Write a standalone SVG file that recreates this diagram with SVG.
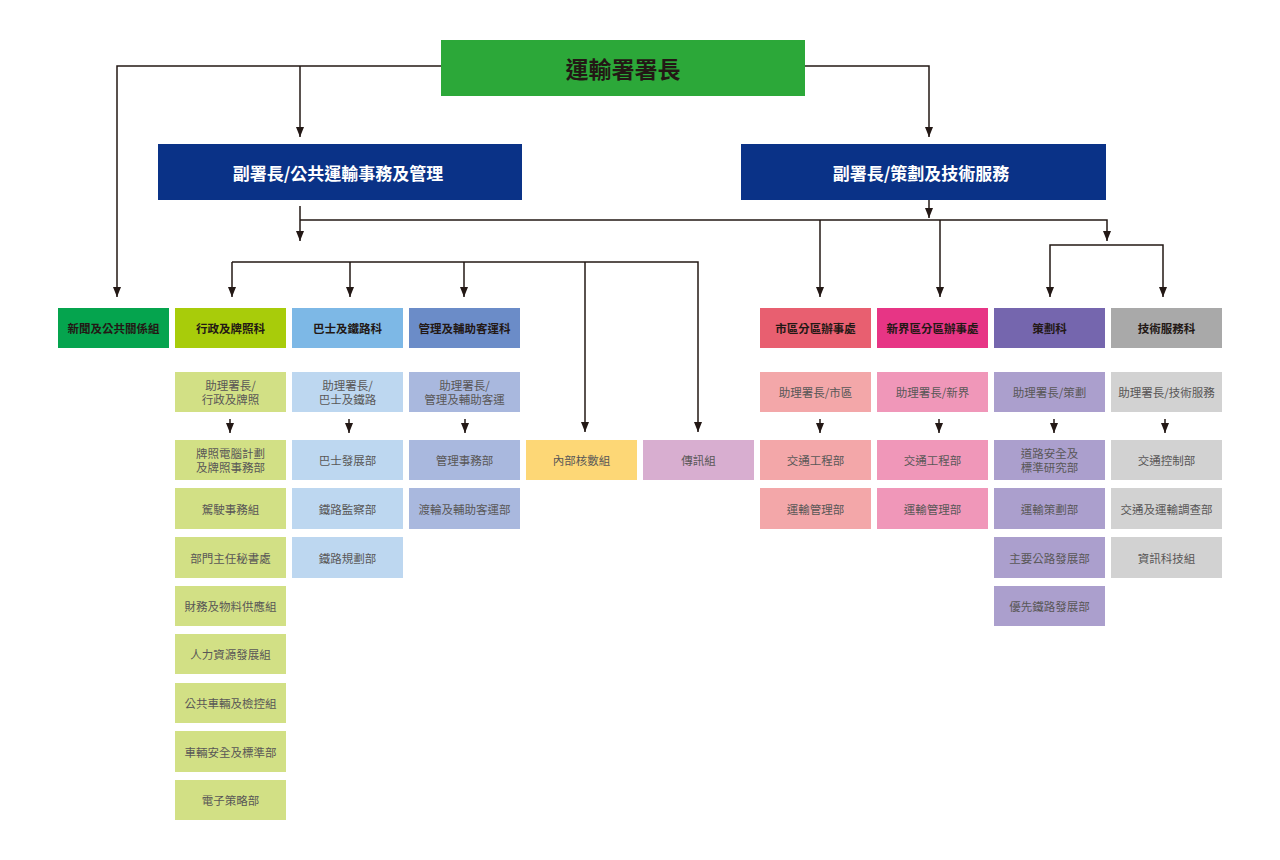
<svg xmlns="http://www.w3.org/2000/svg" width="1280" height="860" viewBox="0 0 1280 860">
<defs>
<style>
text{font-family:"Noto Sans CJK TC","Noto Sans CJK SC",sans-serif;text-anchor:middle;dominant-baseline:central}
.t0{font-size:23px;font-weight:bold;fill:#231815}
.t1{font-size:17px;font-weight:bold;fill:#ffffff}
.h{font-size:11.5px;font-weight:bold;fill:#231815}
.l{font-size:11.5px;fill:#595757}
.c{fill:none;stroke:#231815;stroke-width:1.5}
</style>
<marker id="ah" viewBox="0 0 10 8" refX="10" refY="4" markerWidth="10" markerHeight="8" markerUnits="userSpaceOnUse" orient="auto"><path d="M0,0 L10,4 L0,8 z" fill="#231815"/></marker>
</defs>
<rect width="1280" height="860" fill="#ffffff"/>

<g id="connectors">
<path class="c" d="M441,66 H117 V297" marker-end="url(#ah)"/>
<path class="c" d="M300,66 V137" marker-end="url(#ah)"/>
<path class="c" d="M805,66 H929 V137" marker-end="url(#ah)"/>
<path class="c" d="M300,206 V241" marker-end="url(#ah)"/>
<path class="c" d="M929,200 V218" marker-end="url(#ah)"/>
<path class="c" d="M300,220 H1107 V241" marker-end="url(#ah)"/>
<path class="c" d="M820,220 V297" marker-end="url(#ah)"/>
<path class="c" d="M940,220 V297" marker-end="url(#ah)"/>
<path class="c" d="M1107,245 H1050 V297" marker-end="url(#ah)"/>
<path class="c" d="M1107,245 H1163 V297" marker-end="url(#ah)"/>
<path class="c" d="M232,262 H698 V432" marker-end="url(#ah)"/>
<path class="c" d="M232,262 V297" marker-end="url(#ah)"/>
<path class="c" d="M350,262 V297" marker-end="url(#ah)"/>
<path class="c" d="M464,262 V297" marker-end="url(#ah)"/>
<path class="c" d="M585,262 V432" marker-end="url(#ah)"/>
<path class="c" d="M230,419 V433" marker-end="url(#ah)"/>
<path class="c" d="M349,419 V433" marker-end="url(#ah)"/>
<path class="c" d="M465,419 V433" marker-end="url(#ah)"/>
<path class="c" d="M820,419 V433" marker-end="url(#ah)"/>
<path class="c" d="M939,419 V433" marker-end="url(#ah)"/>
<path class="c" d="M1054,419 V433" marker-end="url(#ah)"/>
<path class="c" d="M1165,419 V433" marker-end="url(#ah)"/>
</g>

<g id="director"><rect x="441" y="40" width="364" height="56" fill="#2ca839"/><text class="t0" x="623" y="68">運輸署署長</text></g>
<g id="dd-public"><rect x="158" y="144" width="364" height="56" fill="#0a3287"/><text class="t1" x="338" y="172">副署長/公共運輸事務及管理</text></g>
<g id="dd-planning"><rect x="741" y="144" width="365" height="56" fill="#0a3287"/><text class="t1" x="921" y="172">副署長/策劃及技術服務</text></g>

<g id="pr"><rect x="58" y="308" width="111" height="40" fill="#05a44e"/><text class="h" x="113.5" y="328">新聞及公共關係組</text></g>
<g id="admin"><rect x="175" y="308" width="111" height="40" fill="#a8cc0a"/><text class="h" x="230.5" y="328">行政及牌照科</text></g>
<g id="busrail"><rect x="292" y="308" width="111" height="40" fill="#7db8e6"/><text class="h" x="347.5" y="328">巴士及鐵路科</text></g>
<g id="mgmt"><rect x="409" y="308" width="111" height="40" fill="#6b8cc8"/><text class="h" x="464.5" y="328">管理及輔助客運科</text></g>
<g id="urban"><rect x="760" y="308" width="111" height="40" fill="#e85f70"/><text class="h" x="815.5" y="328">市區分區辦事處</text></g>
<g id="nt"><rect x="877" y="308" width="111" height="40" fill="#e73585"/><text class="h" x="932.5" y="328">新界區分區辦事處</text></g>
<g id="planning"><rect x="994" y="308" width="111" height="40" fill="#7566ae"/><text class="h" x="1049.5" y="328">策劃科</text></g>
<g id="tech"><rect x="1111" y="308" width="111" height="40" fill="#a9a9a9"/><text class="h" x="1166.5" y="328">技術服務科</text></g>

<g id="col1">
<g id="a-ad"><rect x="175" y="372" width="111" height="40" fill="#d2e085"/><text class="l" x="230.5" y="385">助理署長/</text><text class="l" x="230.5" y="399">行政及牌照</text></g>
<g id="a-1"><rect x="175" y="440" width="111" height="40" fill="#d2e085"/><text class="l" x="230.5" y="453">牌照電腦計劃</text><text class="l" x="230.5" y="467">及牌照事務部</text></g>
<g id="a-2"><rect x="175" y="488" width="111" height="41" fill="#d2e085"/><text class="l" x="230.5" y="508.5">駕駛事務組</text></g>
<g id="a-3"><rect x="175" y="537" width="111" height="41" fill="#d2e085"/><text class="l" x="230.5" y="557.5">部門主任秘書處</text></g>
<g id="a-4"><rect x="175" y="586" width="111" height="40" fill="#d2e085"/><text class="l" x="230.5" y="606">財務及物料供應組</text></g>
<g id="a-5"><rect x="175" y="634" width="111" height="40" fill="#d2e085"/><text class="l" x="230.5" y="654">人力資源發展組</text></g>
<g id="a-6"><rect x="175" y="683" width="111" height="40" fill="#d2e085"/><text class="l" x="230.5" y="703">公共車輛及檢控組</text></g>
<g id="a-7"><rect x="175" y="731" width="111" height="41" fill="#d2e085"/><text class="l" x="230.5" y="751.5">車輛安全及標準部</text></g>
<g id="a-8"><rect x="175" y="780" width="111" height="40" fill="#d2e085"/><text class="l" x="230.5" y="800">電子策略部</text></g>
</g>

<g id="col2">
<g id="b-ad"><rect x="292" y="372" width="111" height="40" fill="#bdd7f0"/><text class="l" x="347.5" y="385">助理署長/</text><text class="l" x="347.5" y="399">巴士及鐵路</text></g>
<g id="b-1"><rect x="292" y="440" width="111" height="40" fill="#bdd7f0"/><text class="l" x="347.5" y="460">巴士發展部</text></g>
<g id="b-2"><rect x="292" y="488" width="111" height="41" fill="#bdd7f0"/><text class="l" x="347.5" y="508.5">鐵路監察部</text></g>
<g id="b-3"><rect x="292" y="537" width="111" height="41" fill="#bdd7f0"/><text class="l" x="347.5" y="557.5">鐵路規劃部</text></g>
</g>

<g id="col3">
<g id="c-ad"><rect x="409" y="372" width="111" height="40" fill="#a9b8de"/><text class="l" x="464.5" y="385">助理署長/</text><text class="l" x="464.5" y="399">管理及輔助客運</text></g>
<g id="c-1"><rect x="409" y="440" width="111" height="40" fill="#a9b8de"/><text class="l" x="464.5" y="460">管理事務部</text></g>
<g id="c-2"><rect x="409" y="488" width="111" height="41" fill="#a9b8de"/><text class="l" x="464.5" y="508.5">渡輪及輔助客運部</text></g>
</g>

<g id="audit"><rect x="526" y="440" width="111" height="40" fill="#fdd776"/><text class="l" x="581.5" y="460">內部核數組</text></g>
<g id="comm"><rect x="643" y="440" width="111" height="40" fill="#d8aed0"/><text class="l" x="698.5" y="460">傳訊組</text></g>

<g id="col6">
<g id="d-ad"><rect x="760" y="372" width="111" height="40" fill="#f3a7a9"/><text class="l" x="815.5" y="392">助理署長/市區</text></g>
<g id="d-1"><rect x="760" y="440" width="111" height="40" fill="#f3a7a9"/><text class="l" x="815.5" y="460">交通工程部</text></g>
<g id="d-2"><rect x="760" y="488" width="111" height="41" fill="#f3a7a9"/><text class="l" x="815.5" y="508.5">運輸管理部</text></g>
</g>

<g id="col7">
<g id="e-ad"><rect x="877" y="372" width="111" height="40" fill="#f097b9"/><text class="l" x="932.5" y="392">助理署長/新界</text></g>
<g id="e-1"><rect x="877" y="440" width="111" height="40" fill="#f097b9"/><text class="l" x="932.5" y="460">交通工程部</text></g>
<g id="e-2"><rect x="877" y="488" width="111" height="41" fill="#f097b9"/><text class="l" x="932.5" y="508.5">運輸管理部</text></g>
</g>

<g id="col8">
<g id="f-ad"><rect x="994" y="372" width="111" height="40" fill="#ab9fcd"/><text class="l" x="1049.5" y="392">助理署長/策劃</text></g>
<g id="f-1"><rect x="994" y="440" width="111" height="40" fill="#ab9fcd"/><text class="l" x="1049.5" y="453">道路安全及</text><text class="l" x="1049.5" y="467">標準研究部</text></g>
<g id="f-2"><rect x="994" y="488" width="111" height="41" fill="#ab9fcd"/><text class="l" x="1049.5" y="508.5">運輸策劃部</text></g>
<g id="f-3"><rect x="994" y="537" width="111" height="41" fill="#ab9fcd"/><text class="l" x="1049.5" y="557.5">主要公路發展部</text></g>
<g id="f-4"><rect x="994" y="586" width="111" height="40" fill="#ab9fcd"/><text class="l" x="1049.5" y="606">優先鐵路發展部</text></g>
</g>

<g id="col9">
<g id="g-ad"><rect x="1111" y="372" width="111" height="40" fill="#d2d2d2"/><text class="l" x="1166.5" y="392">助理署長/技術服務</text></g>
<g id="g-1"><rect x="1111" y="440" width="111" height="40" fill="#d2d2d2"/><text class="l" x="1166.5" y="460">交通控制部</text></g>
<g id="g-2"><rect x="1111" y="488" width="111" height="41" fill="#d2d2d2"/><text class="l" x="1166.5" y="508.5">交通及運輸調查部</text></g>
<g id="g-3"><rect x="1111" y="537" width="111" height="41" fill="#d2d2d2"/><text class="l" x="1166.5" y="557.5">資訊科技組</text></g>
</g>
</svg>
